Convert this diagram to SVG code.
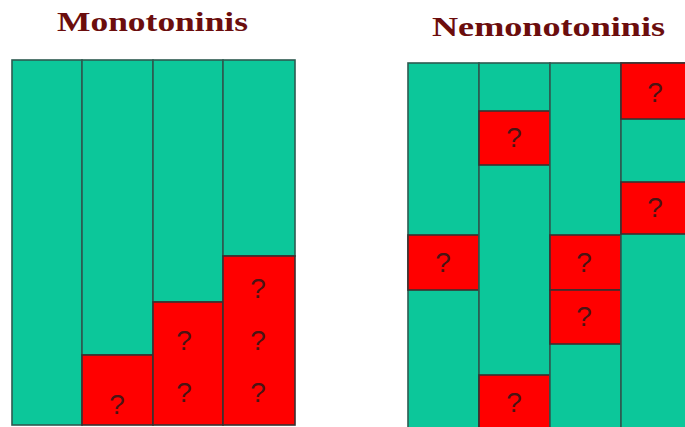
<svg xmlns="http://www.w3.org/2000/svg" width="685" height="427" viewBox="0 0 685 427">
<style>
.t{fill:#6b0d0d;font-family:"Liberation Serif",serif;font-weight:bold;font-size:27px}
.g{fill:#0cc79a;stroke:#2d5a50;stroke-width:1.6}
.r{fill:#ff0000;stroke:#3a3030;stroke-width:1.6}
.q{fill:#4a1414;font-family:"Liberation Sans",sans-serif;font-size:28px;text-anchor:middle}
</style>
<rect width="685" height="427" fill="#ffffff"/>
<text class="t" x="57" y="31" textLength="191" lengthAdjust="spacingAndGlyphs">Monotoninis</text>
<text class="t" x="432" y="36" textLength="233" lengthAdjust="spacingAndGlyphs">Nemonotoninis</text>
<g id="mono">
<g id="m1"><rect class="g" x="12" y="60" width="70" height="365"/></g>
<g id="m2"><rect class="g" x="82" y="60" width="71" height="295"/><rect class="r" x="82" y="355" width="71" height="70"/><text class="q" x="117" y="414">?</text></g>
<g id="m3"><rect class="g" x="153" y="60" width="70" height="242"/><rect class="r" x="153" y="302" width="70" height="123"/><text class="q" x="184" y="350">?</text><text class="q" x="184" y="402">?</text></g>
<g id="m4"><rect class="g" x="223" y="60" width="72" height="196"/><rect class="r" x="223" y="256" width="72" height="169"/><text class="q" x="258" y="298">?</text><text class="q" x="258" y="350">?</text><text class="q" x="258" y="402">?</text></g>
</g>
<g id="nemono">
<g id="n1"><rect class="g" x="408" y="63" width="71" height="372"/><rect class="r" x="408" y="235" width="71" height="55"/><text class="q" x="443" y="272">?</text></g>
<g id="n2"><rect class="g" x="479" y="63" width="71" height="372"/><rect class="r" x="479" y="111" width="71" height="54"/><text class="q" x="514" y="147">?</text><rect class="r" x="479" y="375" width="71" height="60"/><text class="q" x="514" y="412">?</text></g>
<g id="n3"><rect class="g" x="550" y="63" width="71" height="372"/><rect class="r" x="550" y="235" width="71" height="55"/><text class="q" x="584" y="272">?</text><rect class="r" x="550" y="290" width="71" height="54"/><text class="q" x="584" y="326">?</text></g>
<g id="n4"><rect class="g" x="621" y="63" width="70" height="372"/><rect class="r" x="621" y="63" width="70" height="56"/><text class="q" x="655" y="102">?</text><rect class="r" x="621" y="182" width="70" height="52"/><text class="q" x="655" y="217">?</text></g>
</g>
</svg>
